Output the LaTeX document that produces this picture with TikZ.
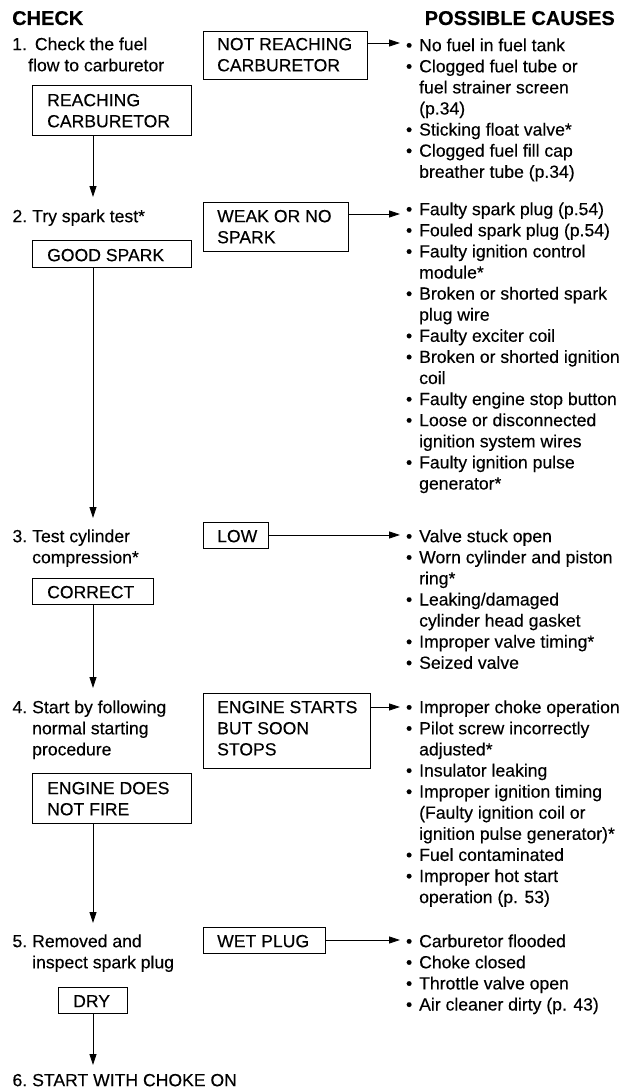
\documentclass[tikz,border=0pt]{standalone}
\usepackage{fontspec}
\setmainfont{Liberation Sans}[FakeBold=0.3]
\usetikzlibrary{arrows.meta,fit}
\newcommand\fs{\rule{0pt}{15pt}}
\newcommand\bu{\makebox[0pt][r]{\textbullet\hspace{7pt}}}
\newcommand\nm[1]{\makebox[0pt][r]{#1\hspace{5pt}}}
\begin{document}
\begin{tikzpicture}[x=1pt, y=-1pt,
  txt/.style={anchor=north west, inner sep=0pt, align=left, font=\fontsize{17.6}{21.1}\selectfont},
  hdr/.style={inner sep=0pt, font=\bfseries\fontsize{20}{24}\selectfont},
  box/.style={draw, line width=0.8pt, inner sep=0pt},
  arr/.style={-{Triangle[length=11pt,width=7pt]}, line width=0.8pt}]
\useasboundingbox (0,0) rectangle (619,1089);

% headers
\node[hdr, anchor=base west] (hc) at (12,25) {CHECK};
\node[hdr, anchor=base east] (hp) at (615,25) {POSSIBLE CAUSES};

% steps
\node[txt] (s1) at (12,35) {\fs 1.\hspace{8pt}Check the fuel\\\hspace*{16pt}flow to carburetor};
\node[txt] (s2) at (32,207) {\fs\nm{2.}Try spark test*};
\node[txt] (s3) at (32,527) {\fs\nm{3.}Test cylinder\\compression*};
\node[txt] (s4) at (32,698) {\fs\nm{4.}Start by following\\normal starting\\procedure};
\node[txt] (s5) at (32,932) {\fs\nm{5.}Removed and\\inspect spark plug};
\node[txt] (s6) at (32,1071) {\fs\nm{6.}START WITH CHOKE ON};

% boxes
\node[box, fit={(203,31) (367,79)}] (nr) {};
\node[txt] (nrt) at (217,35) {\fs NOT REACHING\\CARBURETOR};
\node[box, fit={(32,85) (191,135)}] (r) {};
\node[txt] (rt) at (47,91) {\fs REACHING\\CARBURETOR};
\node[box, fit={(203,202) (348,251)}] (w) {};
\node[txt] (wt) at (217,207) {\fs WEAK OR NO\\SPARK};
\node[box, fit={(32,240) (191,267)}] (g) {};
\node[txt] (gt) at (47,246) {\fs GOOD SPARK};
\node[box, fit={(203,522) (268,548)}] (lo) {};
\node[txt] (lot) at (217,527) {\fs LOW};
\node[box, fit={(32,578) (153,604)}] (co) {};
\node[txt] (cot) at (47,583) {\fs CORRECT};
\node[box, fit={(203,693) (370,768)}] (es) {};
\node[txt] (est) at (217,698) {\fs ENGINE STARTS\\BUT SOON\\STOPS};
\node[box, fit={(32,773) (191,823)}] (nf) {};
\node[txt] (nft) at (47,779) {\fs ENGINE DOES\\NOT FIRE};
\node[box, fit={(203,927) (325,953)}] (wp) {};
\node[txt] (wpt) at (217,932) {\fs WET PLUG};
\node[box, fit={(58,987) (127,1013)}] (dr) {};
\node[txt] (drt) at (73,992) {\fs DRY};

% causes
\node[txt] (c1) at (419,36) {\fs\bu No fuel in fuel tank\\\bu Clogged fuel tube or\\fuel strainer screen\\(p.34)\\\bu Sticking float valve*\\\bu Clogged fuel fill cap\\breather tube (p.34)};
\node[txt] (c2) at (419,200) {\fs\bu Faulty spark plug (p.54)\\\bu Fouled spark plug (p.54)\\\bu Faulty ignition control\\module*\\\bu Broken or shorted spark\\plug wire\\\bu Faulty exciter coil\\\bu Broken or shorted ignition\\coil\\\bu Faulty engine stop button\\\bu Loose or disconnected\\ignition system wires\\\bu Faulty ignition pulse\\generator*};
\node[txt] (c3) at (419,527) {\fs\bu Valve stuck open\\\bu Worn cylinder and piston\\ring*\\\bu Leaking/damaged\\cylinder head gasket\\\bu Improper valve timing*\\\bu Seized valve};
\node[txt] (c4) at (419,698) {\fs\bu Improper choke operation\\\bu Pilot screw incorrectly\\adjusted*\\\bu Insulator leaking\\\bu Improper ignition timing\\(Faulty ignition coil or\\ignition pulse generator)*\\\bu Fuel contaminated\\\bu Improper hot start\\operation (p. 53)};
\node[txt] (c5) at (419,932) {\fs\bu Carburetor flooded\\\bu Choke closed\\\bu Throttle valve open\\\bu Air cleaner dirty (p. 43)};

% arrow ends
\coordinate (h1) at (400,43);
\coordinate (h2) at (400,214);
\coordinate (h3) at (400,535);
\coordinate (h4) at (400,707);
\coordinate (h5) at (400,940);
\coordinate (v1) at (93,197);
\coordinate (v2) at (93,518);
\coordinate (v3) at (93,688);
\coordinate (v4) at (93,923);
\coordinate (v5) at (93,1065);

\draw[arr] (nr.east |- h1) -- (h1);
\draw[arr] (w.east |- h2) -- (h2);
\draw[arr] (lo.east |- h3) -- (h3);
\draw[arr] (es.east |- h4) -- (h4);
\draw[arr] (wp.east |- h5) -- (h5);
\draw[arr] (r.south -| v1) -- (v1);
\draw[arr] (g.south -| v2) -- (v2);
\draw[arr] (co.south -| v3) -- (v3);
\draw[arr] (nf.south -| v4) -- (v4);
\draw[arr] (dr.south -| v5) -- (v5);
\end{tikzpicture}
\end{document}
